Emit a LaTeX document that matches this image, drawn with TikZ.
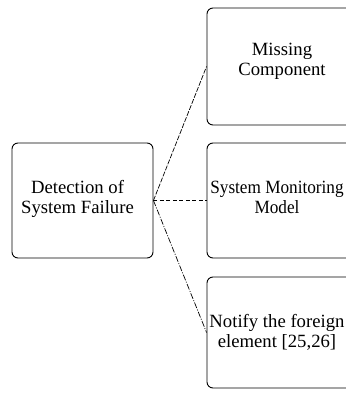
\documentclass[tikz,border=0pt]{standalone}
\usepackage{fontspec}
\setmainfont{Liberation Serif}
\newfontfamily\condserif[FakeStretch=0.92]{Liberation Serif}
\begin{document}
\begin{tikzpicture}[x=1pt,y=1pt,
  box/.style={draw=black, line width=0.9pt, rounded corners=6pt, inner sep=0pt},
  txt/.style={align=center, inner sep=0pt, font=\fontsize{18.7}{20}\selectfont},
  link/.style={draw=black, line width=0.7pt}]
\useasboundingbox (0,0) rectangle (345,393);
\fill[white] (0,0) rectangle (345,393);
\node[box, minimum width=141pt, minimum height=115pt] (det) at (82.5,192.5) {};
\node[box, minimum width=150pt, minimum height=117pt] (miss) at (282,326.5) {};
\node[box, minimum width=150pt, minimum height=115pt] (mon) at (282,192.5) {};
\node[box, minimum width=150pt, minimum height=111pt] (notif) at (282,60.5) {};
\node[txt] (dett) at ([xshift=-5pt,yshift=2pt]det.center) {Detection of\\System Failure};
\node[txt] (misst) at ([xshift=0pt,yshift=5pt]miss.center) {Missing\\Component};
\node[txt, font=\condserif\fontsize{18.7}{20}\selectfont] (mont) at ([xshift=-5pt,yshift=3pt]mon.center) {System Monitoring\\Model};
\node[txt] (notift) at ([xshift=-5pt,yshift=0pt]notif.center) {Notify the foreign\\element [25,26]};
\draw[link, dash pattern=on 5pt off 1.5pt] (det.east) -- (miss.west);
\draw[link, line width=0.9pt, dash pattern=on 4pt off 2.5pt] (det.east) -- (mon.west);
\draw[link, dash pattern=on 6pt off 1.5pt on 1pt off 1.5pt] (det.east) -- (notif.west);
\end{tikzpicture}
\end{document}
